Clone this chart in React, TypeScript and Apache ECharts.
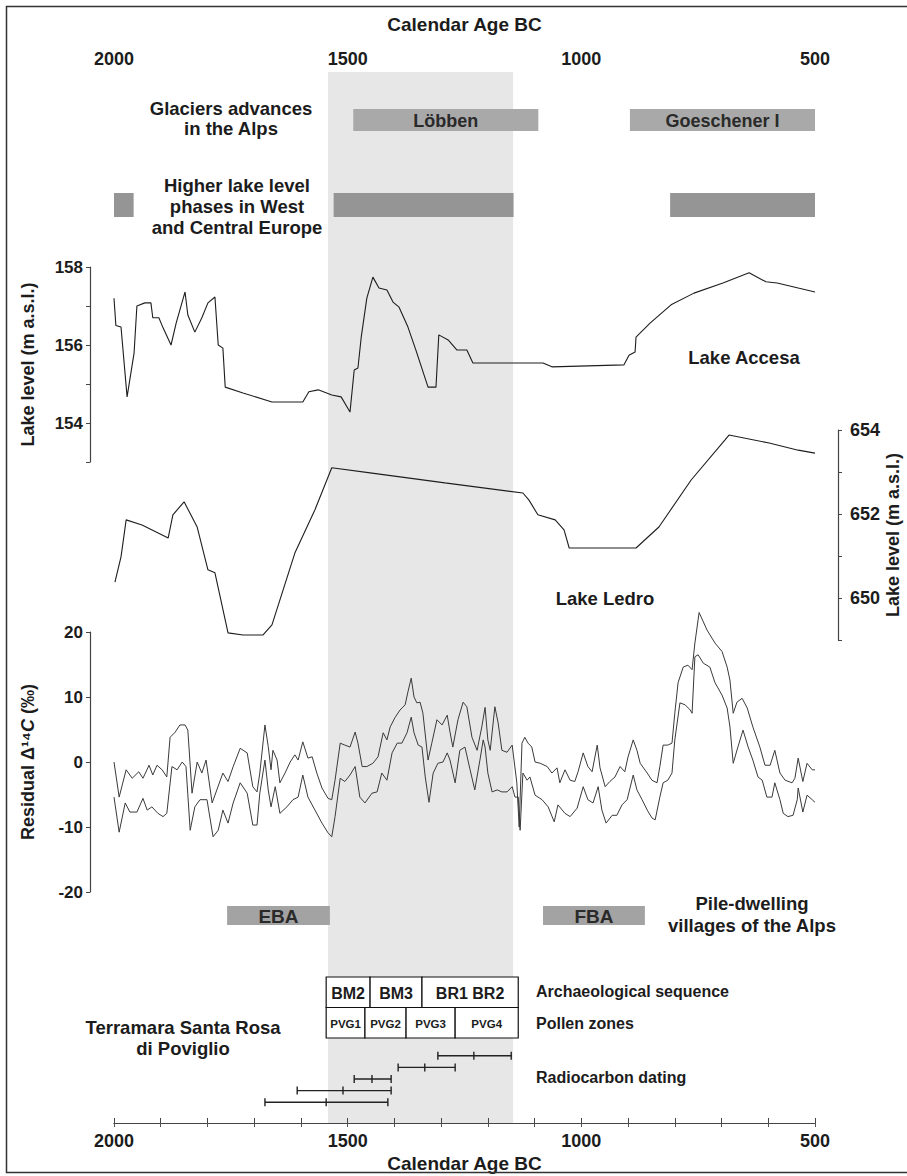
import React, { useEffect, useRef } from "react";
import * as echarts from "echarts";

const FONT = '"Liberation Sans", Arial, sans-serif';
const TXT = "#1c1c1c";

// ---------- data ----------
const yearMin = 500;
const yearMax = 2000;
const labelledYears = [2000, 1500, 1000, 500];
const highlightBand = [[1542, 1146]];

const glacierNames = ["Löbben", "Goeschener I"];
const glacierSpans = [[1488, 1092], [896, 500]];

const lakePhaseSpans = [[2000, 1958], [1530, 1145], [810, 500]];

const pileNames = ["EBA", "FBA"];
const pileSpans = [[1758, 1538], [1082, 864]];

const accesaLabels = [154, 156, 158];
const accesa = [
  [2000, 157.2], [1996, 156.5], [1985, 156.46], [1972, 154.67], [1957, 155.8], [1951, 157.0],
  [1934, 157.08], [1921, 157.08], [1917, 156.7], [1904, 156.7], [1895, 156.44], [1878, 156.0],
  [1867, 156.56], [1848, 157.36], [1842, 156.77], [1827, 156.33], [1812, 156.7], [1799, 157.08],
  [1784, 157.23], [1777, 156.0], [1767, 155.92], [1762, 154.92], [1724, 154.77], [1662, 154.54],
  [1596, 154.54], [1583, 154.8], [1563, 154.85], [1534, 154.72], [1514, 154.67], [1495, 154.28],
  [1486, 155.36], [1478, 155.41], [1471, 156.2], [1459, 157.2], [1446, 157.74], [1433, 157.46],
  [1416, 157.41], [1403, 157.1], [1390, 156.97], [1371, 156.46], [1354, 155.87], [1328, 154.92],
  [1311, 154.92], [1305, 156.26], [1285, 156.13], [1266, 155.87], [1245, 155.87], [1232, 155.54],
  [1082, 155.54], [1063, 155.44], [909, 155.49], [898, 155.74], [885, 155.82], [883, 156.2],
  [853, 156.56], [808, 157.03], [759, 157.33], [697, 157.59], [641, 157.85], [605, 157.62],
  [581, 157.59], [536, 157.46], [500, 157.36],
];

const ledroLabels = [650, 652, 654];
const ledro = [
  [1998, 650.38], [1985, 650.98], [1974, 651.86], [1940, 651.74], [1884, 651.43], [1874, 651.98],
  [1850, 652.29], [1822, 651.69], [1799, 650.67], [1784, 650.6], [1756, 649.17], [1724, 649.12],
  [1681, 649.12], [1662, 649.36], [1613, 651.07], [1570, 652.1], [1534, 653.1], [1452, 652.98],
  [1292, 652.74], [1125, 652.5], [1112, 652.33], [1093, 651.98], [1056, 651.86], [1037, 651.62],
  [1026, 651.19], [883, 651.19], [834, 651.69], [765, 652.81], [693, 653.76], [684, 653.88],
  [598, 653.69], [536, 653.52], [500, 653.45],
];

const residualUpper = [
  [2000, 0], [1989, -5.4], [1974, -1.2], [1961, -2.5], [1947, -1.5], [1938, -2.5], [1925, -0.5],
  [1917, -2], [1908, -0.5], [1897, -1.2], [1887, -2.3], [1880, 3.8], [1869, 4.6], [1859, 5.7],
  [1848, 5.7], [1842, 4.9], [1833, -4.8], [1822, 0], [1812, -1.7], [1803, 0.3], [1790, -6.3],
  [1780, -4.3], [1767, -1.7], [1756, -3], [1745, -0.7], [1730, 2.1], [1715, 1.4], [1703, -3.8],
  [1694, -4.6], [1688, -1.7], [1677, 5.7], [1670, 2.4], [1664, -1.2], [1660, 1.8], [1651, 0.3],
  [1645, -3.2], [1634, -1.7], [1623, 0], [1613, 1.1], [1606, 0.3], [1596, 3.1], [1585, 0.6],
  [1576, 0.8], [1566, -1.7], [1555, -4], [1542, -5.6], [1534, -5.8], [1527, -2.8], [1516, 2.9],
  [1506, 2.6], [1495, 2.3], [1484, 4.6], [1478, 2.9], [1469, -0.7], [1459, -0.7], [1446, -0.2],
  [1435, 0.8], [1424, 4.5], [1416, 3.4], [1409, 5.4], [1399, 6.8], [1388, 8], [1377, 8.8],
  [1371, 10.8], [1364, 12.9], [1358, 10], [1352, 9.1], [1345, 9.2], [1339, 7.5], [1328, 0.3],
  [1320, 2.9], [1309, 6.5], [1298, 5.7], [1287, 7.2], [1281, 4.6], [1275, 2.3], [1264, 6.5],
  [1253, 9.2], [1245, 8.5], [1234, 3.8], [1223, 1.8], [1213, 5.4], [1206, 8.4], [1200, 3.4],
  [1195, 1.8], [1185, 8.5], [1178, 6], [1170, 1.8], [1159, 1.5], [1148, 2.6], [1138, -3.2],
  [1133, -10], [1127, 2.9], [1121, 3.8], [1114, 2.9], [1106, 2.3], [1099, 0], [1088, -0.2],
  [1073, -0.7], [1063, -1.7], [1052, -0.9], [1046, -3.2], [1035, -1.2], [1024, -2.8], [1014, -3],
  [1007, -1.5], [996, 1.4], [986, -0.7], [977, -1.5], [966, 2.6], [960, -0.9], [949, -3.8],
  [939, -3], [928, -2.3], [917, -0.7], [907, -1.5], [900, 0.8], [889, 3.4], [881, 1.8], [874, -0.2],
  [859, -1.7], [849, -2.8], [838, -3.2], [832, -0.7], [825, 2.6], [815, 2.6], [806, 2.9], [800, 7.5],
  [793, 12.2], [782, 14.6], [772, 14.9], [763, 14.2], [757, 18.3], [748, 23], [731, 20.3],
  [714, 18.3], [699, 17], [688, 14.6], [682, 12.6], [675, 7.5], [667, 9.2], [656, 9.8], [645, 8.3],
  [633, 5.4], [618, 2.3], [607, -0.5], [596, -0.5], [586, 1.8], [575, -1.7], [564, -2.8],
  [549, -3.2], [543, -2.5], [536, 0.6], [528, -2.3], [526, -3], [517, -0.2], [506, -1.2], [500, -1.2],
];

const residualLower = [
  [2000, -5.4], [1989, -10.8], [1976, -6.3], [1966, -7.7], [1951, -7.7], [1938, -5.6], [1929, -7.4],
  [1919, -6.9], [1906, -7.9], [1895, -8.4], [1887, -7.9], [1876, -0.7], [1865, -1.2], [1854, 0],
  [1846, -0.7], [1837, -10.5], [1827, -6.9], [1816, -5.8], [1801, -5.8], [1788, -11.5],
  [1777, -10.5], [1767, -7.4], [1756, -9.4], [1745, -6.3], [1730, -3.2], [1715, -4.8], [1703, -9.7],
  [1694, -9.7], [1688, -4.8], [1677, 0.3], [1670, -4.3], [1664, -6.9], [1655, -3.8], [1645, -7.9],
  [1630, -6.9], [1617, -5.8], [1606, -5.4], [1596, -2], [1585, -5.4], [1570, -7.4], [1555, -9.4],
  [1542, -10.9], [1534, -11.5], [1527, -8.4], [1516, -2.5], [1506, -3], [1495, -2], [1484, -0.7],
  [1474, -5.4], [1463, -6.3], [1448, -4.8], [1437, -4.6], [1427, -1.7], [1416, -2.8], [1405, 1.4],
  [1394, 2.9], [1384, 2.9], [1373, 4.5], [1364, 6.9], [1358, 4.5], [1349, 2.6], [1341, 2.3],
  [1334, -2.3], [1326, -6.2], [1317, -1.7], [1307, -0.2], [1296, 0], [1287, 1.4], [1281, 0.3],
  [1270, -3.2], [1260, 1.8], [1249, 2.3], [1238, -1.2], [1228, -4.3], [1217, 0.3], [1210, 3.4],
  [1206, 2.3], [1200, -1.7], [1191, -4.6], [1180, -4.3], [1170, -4.6], [1159, -4.6], [1148, -3.8],
  [1142, -5.4], [1135, -5.4], [1131, -10.5], [1125, -1.7], [1116, -2.8], [1110, -2.3], [1099, -5.1],
  [1084, -5.8], [1071, -6.9], [1058, -9.2], [1050, -6.6], [1035, -7.9], [1024, -8.4], [1009, -7.1],
  [996, -3.8], [986, -5.8], [975, -6.3], [964, -3.8], [956, -7.4], [947, -9.4], [934, -8.2],
  [924, -8.2], [913, -6.6], [902, -5.8], [889, -2], [881, -4.3], [870, -5.8], [859, -7.4],
  [849, -8.6], [842, -8.9], [832, -5.4], [825, -3.2], [815, -2.8], [806, -1.7], [800, 3.4],
  [789, 9.1], [778, 8.8], [767, 8], [763, 7.5], [757, 16.2], [750, 16.5], [739, 15.2], [725, 14.6],
  [714, 12.2], [699, 10.3], [688, 8.3], [682, 5.4], [675, -0.2], [665, 2.3], [654, 4.9], [643, 2.3],
  [633, 0.3], [622, -2.3], [613, -2.8], [603, -5.4], [592, -5.4], [586, -3.2], [575, -5.8],
  [568, -7.9], [558, -8.4], [547, -8.2], [538, -5.8], [536, -4], [526, -7.7], [517, -5.1],
  [506, -5.8], [500, -6.2],
];

const archaeoNames = ["BM2", "BM3", "BR1 BR2"];
const archaeoSpans = [[1546, 1452], [1452, 1341], [1341, 1135]];
const pollenNames = ["PVG1", "PVG2", "PVG3", "PVG4"];
const pollenSpans = [[1546, 1463], [1463, 1375], [1375, 1270], [1270, 1135]];

const radiocarbonRows = ["d1", "d2", "d3", "d4", "d5"];
// [older end, median, younger end], top row first
const radiocarbon = [
  [1307, 1230, 1150],
  [1392, 1335, 1270],
  [1486, 1448, 1407],
  [1608, 1510, 1407],
  [1677, 1546, 1414],
];

// ---------- helpers ----------
const L = 114;
const R = 92;

function spanBars(names: string[] | null, color: string, fontSize: number) {
  return (params: any, api: any) => {
    const a = api.coord([api.value(0), 1]);
    const b = api.coord([api.value(1), 0]);
    const x = Math.min(a[0], b[0]);
    const y = Math.min(a[1], b[1]);
    const w = Math.abs(b[0] - a[0]);
    const h = Math.abs(b[1] - a[1]);
    const children: any[] = [
      { type: "rect", shape: { x, y, width: w, height: h }, style: { fill: color } },
    ];
    if (names) {
      children.push({
        type: "text",
        style: {
          text: names[params.dataIndex], x: x + w / 2, y: y + h / 2 + 1,
          align: "center", verticalAlign: "middle", textAlign: "center", textVerticalAlign: "middle",
          font: `bold ${fontSize}px ${FONT}`, fill: "#2a2a2a",
        },
      });
    }
    return { type: "group", children };
  };
}

function tableCells(names: string[], fontSize: number) {
  return (params: any, api: any) => {
    const row = api.value(2);
    const a = api.coord([api.value(0), row]);
    const b = api.coord([api.value(1), row + 1]);
    const x = Math.min(a[0], b[0]);
    const y = Math.min(a[1], b[1]);
    const w = Math.abs(b[0] - a[0]);
    const h = Math.abs(b[1] - a[1]);
    return {
      type: "group",
      children: [
        { type: "rect", shape: { x, y, width: w, height: h }, style: { fill: "#fff", stroke: "#111", lineWidth: 1.2 } },
        {
          type: "text",
          style: {
            text: names[params.dataIndex], x: x + w / 2, y: y + h / 2 + 1,
            align: "center", verticalAlign: "middle", textAlign: "center", textVerticalAlign: "middle",
            font: `bold ${fontSize}px ${FONT}`, fill: TXT,
          },
        },
      ],
    };
  };
}

function errorBars(params: any, api: any) {
  const row = params.dataIndex;
  const p0 = api.coord([api.value(0), row]);
  const p1 = api.coord([api.value(1), row]);
  const p2 = api.coord([api.value(2), row]);
  const y = p0[1];
  const st = { stroke: "#222", lineWidth: 1.4 };
  return {
    type: "group",
    children: [
      { type: "line", shape: { x1: p0[0], y1: y, x2: p2[0], y2: y }, style: st },
      { type: "line", shape: { x1: p0[0], y1: y - 4, x2: p0[0], y2: y + 4 }, style: st },
      { type: "line", shape: { x1: p2[0], y1: y - 4, x2: p2[0], y2: y + 4 }, style: st },
      { type: "line", shape: { x1: p1[0], y1: y - 4, x2: p1[0], y2: y + 4 }, style: st },
    ],
  };
}

function txt(text: string, x: number, y: number, size: number, align = "center", lh = 21) {
  return {
    type: "text",
    z: 20,
    style: {
      text, x, y, font: `bold ${size}px ${FONT}`, fill: TXT,
      align, verticalAlign: "middle", textAlign: align, textVerticalAlign: "middle", lineHeight: lh,
    },
  };
}

const hiddenX = (gridIndex: number) => ({
  type: "value", gridIndex, min: yearMin, max: yearMax, inverse: true, show: false,
});
const hiddenY = (gridIndex: number, max = 1, inverse = false) => ({
  type: "value", gridIndex, min: 0, max, inverse, show: false,
});

const mkGrid = (top: number, height: number) => ({
  left: L, right: R, top, height, containLabel: false, outerBoundsMode: "none",
});

const xLabelStyle = { fontFamily: FONT, fontWeight: "bold", fontSize: 18, color: TXT };
const yLabelStyle = { fontFamily: FONT, fontWeight: "bold", fontSize: 17, color: TXT };
const nameStyle = { fontFamily: FONT, fontWeight: "bold", fontSize: 18, color: TXT };

const option: any = {
  animation: false,
  backgroundColor: "#ffffff",
  grid: [
    mkGrid(72, 1051),
    mkGrid(109, 22),
    mkGrid(193, 24),
    mkGrid(267, 195),
    mkGrid(430, 210),
    mkGrid(632, 260),
    mkGrid(906, 19),
    mkGrid(977, 61),
    mkGrid(1050, 58),
  ],
  xAxis: [
    {
      type: "value", gridIndex: 0, position: "top", min: yearMin, max: yearMax, inverse: true, interval: 100,
      name: "Calendar Age BC", nameLocation: "middle", nameGap: 38,
      nameTextStyle: { ...nameStyle, fontSize: 19 },
      axisLine: { show: true, lineStyle: { color: "#555", width: 1 } },
      axisTick: { show: true, inside: true, length: 4, lineStyle: { color: "#555" } },
      axisLabel: { ...xLabelStyle, margin: 4, formatter: (v: number) => (labelledYears.includes(v) ? String(v) : "") },
      splitLine: { show: false },
    },
    {
      type: "value", gridIndex: 0, position: "bottom", min: yearMin, max: yearMax, inverse: true, interval: 100,
      name: "Calendar Age BC", nameLocation: "middle", nameGap: 31, nameMoveOverlap: false,
      nameTextStyle: { ...nameStyle, fontSize: 19 },
      axisLine: { show: true, lineStyle: { color: "#444", width: 1.2 } },
      axisTick: { show: true, inside: true, length: 5, lineStyle: { color: "#444" } },
      axisLabel: { ...xLabelStyle, margin: 9, formatter: (v: number) => (labelledYears.includes(v) ? String(v) : "") },
      splitLine: { show: false },
    },
    hiddenX(1), hiddenX(2), hiddenX(3), hiddenX(4), hiddenX(5), hiddenX(6), hiddenX(7), hiddenX(8),
  ],
  yAxis: [
    hiddenY(0),
    hiddenY(1),
    hiddenY(2),
    {
      type: "value", gridIndex: 3, position: "left", offset: 24, min: 153, max: 158, interval: 1,
      name: "Lake level (m a.s.l.)", nameLocation: "middle", nameRotate: 90, nameGap: 53,
      nameTextStyle: nameStyle,
      axisLine: { show: true, lineStyle: { color: "#444", width: 1.2 } },
      axisTick: { show: true, length: 4, lineStyle: { color: "#444" } },
      axisLabel: { ...yLabelStyle, margin: 7, customValues: accesaLabels },
      splitLine: { show: false },
    },
    {
      type: "value", gridIndex: 4, position: "right", offset: 23, min: 649, max: 654, interval: 1,
      name: "Lake level (m a.s.l.)", nameLocation: "middle", nameRotate: 90, nameGap: 46, nameMoveOverlap: false,
      nameTextStyle: nameStyle,
      axisLine: { show: true, lineStyle: { color: "#444", width: 1.2 } },
      axisTick: { show: true, length: 4, lineStyle: { color: "#444" } },
      axisLabel: { ...yLabelStyle, fontSize: 18, margin: 12, customValues: ledroLabels },
      splitLine: { show: false },
    },
    {
      type: "value", gridIndex: 5, position: "left", offset: 24, min: -20, max: 20, interval: 10,
      name: "Residual Δ¹⁴{it|C} (‰)", nameLocation: "middle", nameRotate: 90, nameGap: 53,
      nameTextStyle: {
        ...nameStyle,
        rich: { it: { fontFamily: FONT, fontWeight: "bold", fontStyle: "italic", fontSize: 18, color: TXT } },
      },
      axisLine: { show: true, lineStyle: { color: "#444", width: 1.2 } },
      axisTick: { show: true, length: 4, lineStyle: { color: "#444" } },
      axisLabel: { ...yLabelStyle, margin: 7 },
      splitLine: { show: false },
    },
    hiddenY(6),
    hiddenY(7, 2, true),
    { type: "category", gridIndex: 8, data: radiocarbonRows, inverse: true, show: false },
  ],
  series: [
    {
      type: "custom", name: "band", xAxisIndex: 0, yAxisIndex: 0, z: 0, silent: true,
      data: highlightBand,
      renderItem: spanBars(null, "#e7e7e7", 14),
    },
    {
      type: "custom", name: "Glaciers advances", xAxisIndex: 2, yAxisIndex: 1, z: 3,
      data: glacierSpans, renderItem: spanBars(glacierNames, "#a9a9a9", 18),
    },
    {
      type: "custom", name: "Higher lake level", xAxisIndex: 3, yAxisIndex: 2, z: 3,
      data: lakePhaseSpans, renderItem: spanBars(null, "#959595", 15),
    },
    {
      type: "line", name: "Lake Accesa", xAxisIndex: 4, yAxisIndex: 3, z: 5, showSymbol: false, clip: false,
      data: accesa, lineStyle: { color: "#1e1e1e", width: 1.1 },
    },
    {
      type: "line", name: "Lake Ledro", xAxisIndex: 5, yAxisIndex: 4, z: 5, showSymbol: false, clip: false,
      data: ledro, lineStyle: { color: "#1e1e1e", width: 1.1 },
    },
    {
      type: "line", name: "Residual upper", xAxisIndex: 6, yAxisIndex: 5, z: 5, showSymbol: false, clip: false,
      data: residualUpper, lineStyle: { color: "#3a3a3a", width: 1 },
    },
    {
      type: "line", name: "Residual lower", xAxisIndex: 6, yAxisIndex: 5, z: 5, showSymbol: false, clip: false,
      data: residualLower, lineStyle: { color: "#3a3a3a", width: 1 },
    },
    {
      type: "custom", name: "Pile-dwelling", xAxisIndex: 7, yAxisIndex: 6, z: 3,
      data: pileSpans, renderItem: spanBars(pileNames, "#a3a3a3", 19),
    },
    {
      type: "custom", name: "Archaeological sequence", xAxisIndex: 8, yAxisIndex: 7, z: 6,
      data: archaeoSpans.map((s) => [s[0], s[1], 0]), renderItem: tableCells(archaeoNames, 16),
    },
    {
      type: "custom", name: "Pollen zones", xAxisIndex: 8, yAxisIndex: 7, z: 6,
      data: pollenSpans.map((s) => [s[0], s[1], 1]), renderItem: tableCells(pollenNames, 11.5),
    },
    {
      type: "custom", name: "Radiocarbon dating", xAxisIndex: 9, yAxisIndex: 8, z: 6,
      data: radiocarbon, renderItem: errorBars,
    },
  ],
  graphic: [
    txt("Glaciers advances\nin the Alps", 231, 118, 18.5, "center", 20),
    txt("Higher lake level\nphases in West\nand Central Europe", 237, 206, 18.5, "center", 21),
    txt("Lake Accesa", 744, 357, 18.5),
    txt("Lake Ledro", 605, 598, 18.5),
    txt("Pile-dwelling\nvillages of the Alps", 752, 914, 18.5, "center", 22),
    txt("Archaeological sequence", 536, 991, 16, "left"),
    txt("Pollen zones", 536, 1023, 16, "left"),
    txt("Radiocarbon dating", 536, 1077, 16, "left"),
    txt("Terramara Santa Rosa\ndi Poviglio", 183, 1038, 18.5, "center", 21),
    { type: "rect", z: 31, silent: true, shape: { x: 6.5, y: 6.5, width: 910, height: 1166 }, style: { fill: "none", stroke: "#333", lineWidth: 1.5 } },
  ],
};

export default function App() {
  const ref = useRef<HTMLDivElement>(null);
  useEffect(() => {
    document.body.style.margin = "0";
    const chart = echarts.init(ref.current as HTMLDivElement, null, { renderer: "svg" });
    chart.setOption(option);
    return () => chart.dispose();
  }, []);
  return <div ref={ref} style={{ width: 907, height: 1176, background: "#fff", overflow: "hidden" }} />;
}
